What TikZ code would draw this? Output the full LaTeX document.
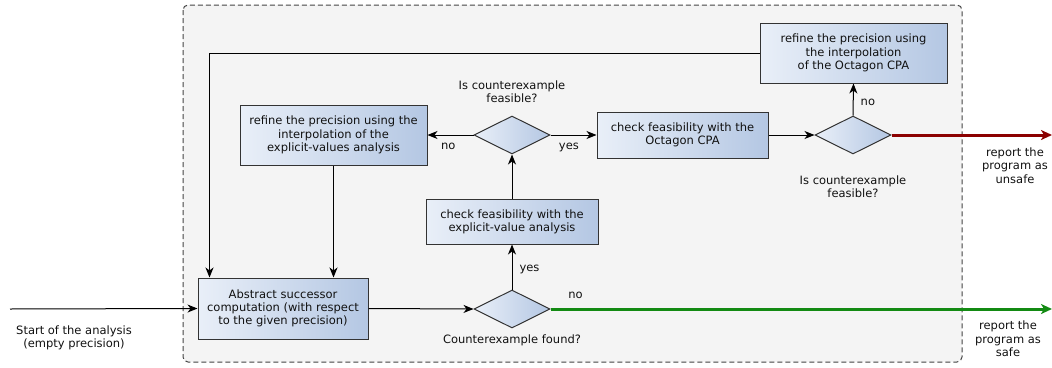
\documentclass[tikz,border=0pt]{standalone}
\usepackage{fontspec}
\setmainfont{DejaVu Sans}
\usetikzlibrary{arrows.meta,shapes.geometric,calc}
\definecolor{boxl}{HTML}{E9EFF8}
\definecolor{boxr}{HTML}{B4C7E3}
\definecolor{bgfill}{HTML}{F4F4F4}
\definecolor{frame}{HTML}{444444}
\definecolor{unsafered}{HTML}{8B0000}
\definecolor{safegreen}{HTML}{138A13}
\definecolor{txt}{HTML}{111111}
\begin{document}
\begin{tikzpicture}[x=1pt,y=-1pt,
  font=\fontsize{11.5}{13.3}\selectfont, text=txt,
  procbox/.style={draw=black!80, line width=1pt, left color=boxl, right color=boxr,
    align=center, inner sep=0pt, minimum width=#1},
  decbox/.style={diamond, draw=black!80, line width=1pt, left color=boxl, right color=boxr,
    inner sep=0pt, minimum width=76pt, minimum height=38pt},
  arr/.style={draw=black, line width=1pt, -{Stealth[length=10pt,width=8pt,inset=3pt]}},
  thickarr/.style={line width=3pt, -{Stealth[length=11pt,width=10pt,inset=3pt]}},
  lbl/.style={align=center, inner sep=0pt}]
\useasboundingbox (0,0) rectangle (1052,367);
\draw[frame, fill=bgfill, line width=1pt, dash pattern=on 5pt off 3pt, rounded corners=5pt]
  (183,5) rectangle (962,362);

\node[procbox=187pt, minimum height=60pt] (refOct) at (853.5,53)
  {refine the precision using\\the interpolation\\of the Octagon CPA};
\node[procbox=187pt, minimum height=60pt] (refExp) at (333.5,135)
  {refine the precision using the\\interpolation of the\\explicit-values analysis};
\node[procbox=171pt, minimum height=46pt] (chkOct) at (682.5,135)
  {check feasibility with the\\Octagon CPA};
\node[procbox=172pt, minimum height=45pt] (chkExp) at (512,221.5)
  {check feasibility with the\\explicit-value analysis};
\node[procbox=170pt, minimum height=61pt] (abs) at (283,308.5)
  {Abstract successor\\computation (with respect\\to the given precision)};
\node[decbox] (d1) at (512,135) {};
\node[decbox] (d2) at (853,135) {};
\node[decbox] (d3) at (512,309) {};

\node[lbl] (q1) at (512,92) {Is counterexample\\feasible?};
\node[lbl] (q2) at (853,187) {Is counterexample\\feasible?};
\node[lbl] (q3) at (512,340) {Counterexample found?};
\node[lbl] (unsafe) at (1015,165.5) {report the\\program as\\unsafe};
\node[lbl] (safe) at (1008,339) {report the\\program as\\safe};
\node[lbl] (startlbl) at (74,337.5) {Start of the analysis\\(empty precision)};

\coordinate (start) at (10,309);
\coordinate (unsafeEnd) at (1052,135);
\coordinate (safeEnd) at (1052,309);
\coordinate (loopin) at ($(abs.north west)+(12,0)$);

\draw[arr] (start) -- (abs.west);
\draw[arr] (abs.east) -- (d3.west);
\draw[arr] (d3.north) -- node[lbl, right=7pt, pos=0.45] {yes} (chkExp.south);
\draw[arr] (chkExp.north) -- (d1.south);
\draw[arr] (d1.east) -- node[lbl, below=8pt, pos=0.4] {yes} (chkOct.west);
\draw[arr] (d1.west) -- node[lbl, below=8pt, pos=0.55] {no} (refExp.east);
\draw[arr] (refExp.south) -- (refExp.south |- abs.north);
\draw[arr] (refOct.west) -| (loopin);
\draw[arr] (chkOct.east) -- (d2.west);
\draw[arr] (d2.north) -- node[lbl, right=7pt, pos=0.4] {no} (refOct.south);
\draw[thickarr, unsafered] (d2.east) -- (unsafeEnd);
\draw[thickarr, safegreen] (d3.east) -- node[lbl, pos=0.05, above=9pt, text=txt] {no} (safeEnd);
\end{tikzpicture}
\end{document}
